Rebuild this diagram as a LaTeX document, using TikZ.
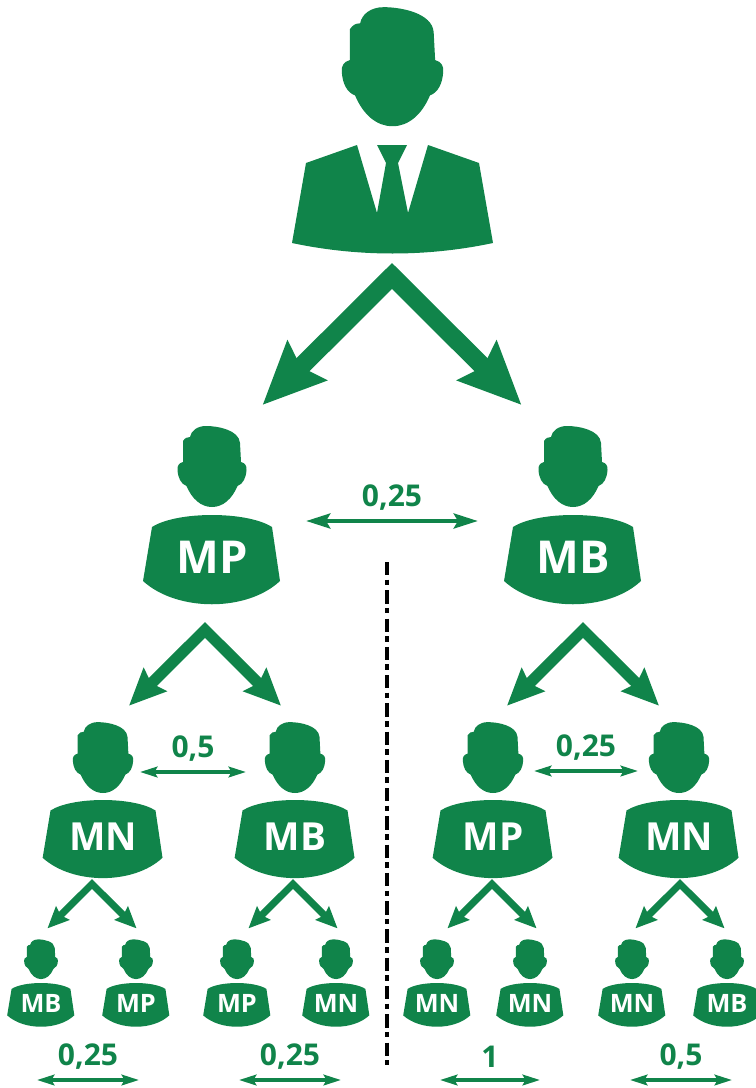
\documentclass[tikz,border=0pt]{standalone}
\usepackage{fontspec}
\setmainfont{Open Sans}
\usetikzlibrary{arrows.meta}
\definecolor{suitgreen}{HTML}{10844A}
% head outline, chin near the origin of the body
\newcommand{\headoutline}{(-29,-74) .. controls (-27,-77) and (-25,-78) .. (-22,-78) .. controls (-21,-84) and (-15,-89) .. (-6,-89) .. controls (6,-89) and (27,-85) .. (28,-72) -- (29,-53) .. controls (33,-52) and (35,-49) .. (34.5,-45) .. controls (34,-37) and (31,-31) .. (25.5,-29) .. controls (20,-16) and (11,-8) .. (0,-8) .. controls (-11,-8) and (-20,-16) .. (-25.5,-29) .. controls (-31,-31) and (-34,-37) .. (-34.5,-45) .. controls (-35,-49) and (-33,-52) .. (-29,-53) -- cycle}
\tikzset{
	pics/person/.style n args={2}{code={
		\fill [suitgreen] \headoutline;
		\fill [suitgreen] (-60,12) .. controls (-35,-4) and (35,-4) .. (60,12) -- (68,66) .. controls (35,97) and (-35,97) .. (-69,66) -- cycle;
		\node [white, font=\bfseries\fontsize{#2}{#2}\selectfont, inner sep=0pt] (-label) at (0,42) {#1};
	}},
	pics/fork/.style={code={
		\coordinate (-apex) at (0,0);
		\coordinate (-left) at (-129.5,129);
		\coordinate (-right) at (129.5,129);
		\draw [suitgreen, line width=#1*13pt+0.8pt, miter limit=10, {Stealth[length=46.5pt,width=40.5pt,inset=6pt,scale=#1]}-{Stealth[length=46.5pt,width=40.5pt,inset=6pt,scale=#1]}] (-left) -- (-apex) -- (-right);
	}},
	pics/pairlink/.style n args={3}{code={
		\coordinate (-left) at (-#1,0);
		\coordinate (-right) at (#1,0);
		\draw [suitgreen, line width=#3*3.6pt, {Stealth[length=18pt,width=11pt,inset=3pt,scale=#3]}-{Stealth[length=18pt,width=11pt,inset=3pt,scale=#3]}] (-left) -- (-right);
		\node [suitgreen, font=\bfseries\fontsize{22.5}{22.5}\selectfont, inner sep=0pt] (-value) at (0,-23) {#2};
	}},
}
\begin{document}
\begin{tikzpicture}[x=0.75pt,y=-0.75pt]
	\useasboundingbox (0,0) rectangle (756,1088);
	% top man
	\fill [suitgreen, shift={(392.5,138)}, scale=1.47] \headoutline;
	\fill [suitgreen] (357,145) -- (306,163) -- (292,243) .. controls (358,257) and (427,257) .. (493,243) -- (479,163) -- (428,145) -- (408,213) -- (398,163) -- (407,145) -- (377,145) -- (386,163) -- (377,213) -- cycle;
	\pic (fork0) at (392,276) {fork=1};
	% second row
	\pic [scale=0.587] (fork1) at (205,630) {fork=0.587};
	\pic [scale=0.587] (fork2) at (583,630) {fork=0.587};
	\pic (mp1) at (212,515) {person={MP}{34}};
	\pic (mb1) at (573,515) {person={MB}{34}};
	\pic (link1) at (392,521) {pairlink={86}{0,25}{1}};
	% third row
	\pic [scale=0.875] (mn2) at (103,800) {person={MN}{29}};
	\pic [scale=0.875] (mb2) at (295,800) {person={MB}{29}};
	\pic [scale=0.875] (mp2) at (493,800) {person={MP}{29}};
	\pic [scale=0.875] (mn3) at (679,800) {person={MN}{29}};
	\pic (link2) at (193,772) {pairlink={53}{0,5}{0.72}};
	\pic (link3) at (586,771) {pairlink={52}{0,25}{0.72}};
	\pic [scale=0.344] (fork3) at (92,884) {fork=0.344};
	\pic [scale=0.344] (fork4) at (293,884) {fork=0.344};
	\pic [scale=0.344] (fork5) at (492,884) {fork=0.344};
	\pic [scale=0.344] (fork6) at (680,884) {fork=0.344};
	% bottom row
	\pic [scale=0.49] (mb3) at (41,983) {person={MB}{19}};
	\pic [scale=0.49] (mp3) at (136,983) {person={MP}{19}};
	\pic [scale=0.49] (mp4) at (237,983) {person={MP}{19}};
	\pic [scale=0.49] (mn4) at (336,983) {person={MN}{19}};
	\pic [scale=0.49] (mn5) at (437,983) {person={MN}{19}};
	\pic [scale=0.49] (mn6) at (530,983) {person={MN}{19}};
	\pic [scale=0.49] (mn7) at (632,983) {person={MN}{19}};
	\pic [scale=0.49] (mb4) at (727,983) {person={MB}{19}};
	\pic (link4) at (88,1080) {pairlink={51}{0,25}{0.72}};
	\pic (link5) at (290,1080) {pairlink={51}{0,25}{0.72}};
	\pic (link6) at (490,1080) {pairlink={50}{1}{0.72}};
	\pic (link7) at (681,1080) {pairlink={51}{0,5}{0.72}};
	% divider
	\coordinate (divtop) at (387,562);
	\coordinate (divbottom) at (387,1065);
	\draw [black, line width=3.2pt, dash pattern=on 10pt off 3.2pt on 4.2pt off 3.8pt] (divtop) -- (divbottom);
\end{tikzpicture}
\end{document}
